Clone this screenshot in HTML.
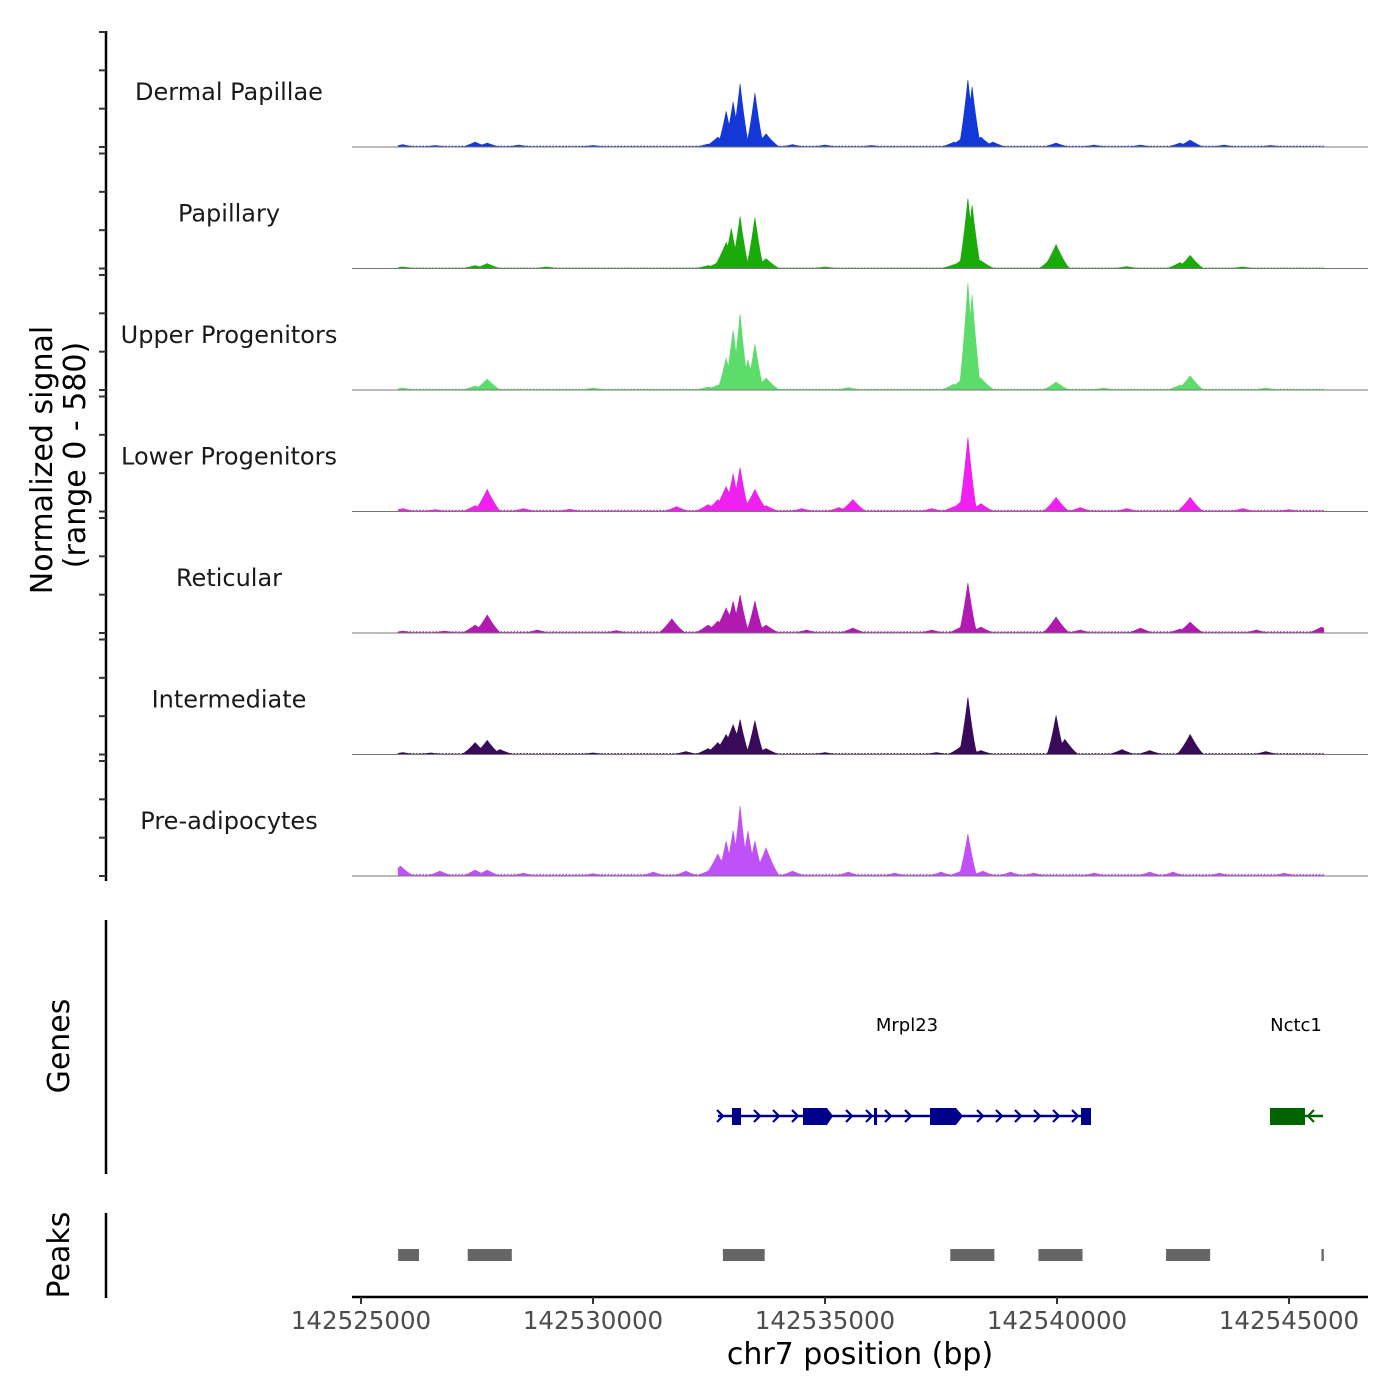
<!DOCTYPE html>
<html><head><meta charset="utf-8">
<style>
html,body{margin:0;padding:0;background:#fff;}
svg{display:block;font-family:"DejaVu Sans","Liberation Sans",sans-serif;}
</style></head>
<body>
<svg id="chart" width="1400" height="1400" viewBox="0 0 1400 1400" xmlns="http://www.w3.org/2000/svg">
<g id="yaxis"></g>
<g id="tracks"></g>
<text x="52" y="460" font-size="30" fill="#000" text-anchor="middle" transform="rotate(-90 52 460)">Normalized signal</text>
<text x="85" y="455" font-size="30" fill="#000" text-anchor="middle" transform="rotate(-90 85 455)">(range 0 - 580)</text>
<line x1="106" y1="920" x2="106" y2="1174" stroke="#000" stroke-width="2.5"/>
<text x="69" y="1046" font-size="30" text-anchor="middle" transform="rotate(-90 69 1046)">Genes</text>
<g id="genes"></g>
<line x1="106" y1="1213" x2="106" y2="1298" stroke="#000" stroke-width="2.5"/>
<text x="69" y="1255" font-size="30" text-anchor="middle" transform="rotate(-90 69 1255)">Peaks</text>
<g id="peaks"></g>
<g id="xaxis"></g>
<text x="860" y="1364" font-size="30" text-anchor="middle" fill="#000">chr7 position (bp)</text>
</svg>
<script>
// ---- data (positions in kb offset from 142525000, values in signal units 0-580) ----
const trackNames = ["Dermal Papillae","Papillary","Upper Progenitors","Lower Progenitors","Reticular","Intermediate","Pre-adipocytes"];
const trackColors = ["#1438d8","#1aaa0a","#5cdc6a","#f020f0","#b01ab0","#3a0a5a","#c050f8"];
const trackBg = [6,4,6,8,8,6,10];
const xTicks = [142525000,142530000,142535000,142540000,142545000];
const dpPos = [0.9,1.6,2.46,2.72,3.4,5.0,7.48,7.69,7.87,8.02,8.17,8.34,8.49,8.73,9.3,10.0,11.0,12.78,12.93,13.08,13.17,13.36,13.62,14.98,15.8,16.8,17.65,17.87,18.6,19.6];
const dpVal = [12,8,25,20,10,8,15,50,180,227,318,40,272,66,12,10,8,25,40,338,302,50,25,20,10,10,20,35,10,8];
const paPos = [0.9,2.46,2.72,4.0,7.48,7.69,7.87,7.98,8.17,8.49,8.73,10.0,12.78,12.93,13.08,13.17,13.36,14.9,14.98,16.5,17.65,17.87,19.0];
const paVal = [8,15,25,8,15,30,131,202,262,257,50,8,20,40,353,320,40,60,121,10,30,66,8];
const upPos = [0.9,2.46,2.72,5.0,7.48,7.69,7.87,8.02,8.17,8.34,8.49,8.73,10.5,12.78,12.93,13.08,13.17,13.36,14.98,16.0,17.65,17.87,19.5];
const upVal = [10,20,55,10,15,25,161,302,383,151,232,60,12,30,50,540,480,60,40,10,25,71,10];
const lpPos = [0.9,1.6,2.46,2.72,3.5,4.5,6.8,7.48,7.69,7.87,8.02,8.17,8.49,8.73,9.5,10.3,10.6,12.3,12.78,12.93,13.08,13.36,14.98,15.5,16.5,17.87,19.0,20.0];
const lpVal = [15,10,30,111,15,12,25,35,60,126,190,222,111,30,15,20,60,15,25,50,373,40,71,20,15,71,15,10];
const rePos = [0.9,1.8,2.46,2.72,3.8,5.5,6.7,7.48,7.69,7.87,8.02,8.17,8.49,8.73,9.6,10.5,10.6,12.3,12.93,13.08,13.36,14.98,15.5,16.8,17.65,17.87,19.3,20.7];
const reVal = [10,10,40,91,15,12,71,40,60,126,160,192,161,40,15,10,25,15,30,252,30,81,15,25,20,55,15,30];
const inPos = [0.9,1.5,2.46,2.72,3.0,5.0,7.0,7.48,7.69,7.87,8.02,8.17,8.49,8.73,10.0,12.4,12.93,13.08,13.36,14.98,15.17,16.4,17.0,17.87,19.5];
const inVal = [10,8,60,71,25,8,15,30,60,101,150,176,171,30,10,10,40,287,20,197,76,25,20,101,15];
const prPos = [0.85,1.7,2.46,2.72,3.5,5.0,6.3,7.0,7.48,7.69,7.87,8.02,8.17,8.34,8.49,8.73,9.3,10.5,11.5,12.5,12.93,13.08,13.4,14.0,14.5,15.8,17.0,17.5,18.5,19.9];
const prVal = [50,25,30,30,15,12,20,25,25,111,176,230,353,227,176,141,25,20,15,20,25,212,25,20,15,15,20,20,15,15];
const trackPos = [dpPos,paPos,upPos,lpPos,rePos,inPos,prPos];
const trackVal = [dpVal,paVal,upVal,lpVal,reVal,inVal,prVal];
const peakStarts = [0.8,2.3,7.8,12.7,14.6,17.35,20.7];
const peakEnds = [1.25,3.25,8.7,13.65,15.55,18.3,20.75];
// ---- axis functions ----
const SVGNS="http://www.w3.org/2000/svg";
const x0=361, pxPerKb=46.4;
function xs(kb){return x0+kb*pxPerKb;}
function xsBp(bp){return xs((bp-142525000)/1000);}
const trackH=115, trackTop0=32, trackStep=121.5, yMax=580;
function ys(i,v){return trackTop0+i*trackStep+trackH - v/yMax*trackH;}
function mk(tag,attrs,parent){const e=document.createElementNS(SVGNS,tag);for(const k in attrs)e.setAttribute(k,attrs[k]);parent.appendChild(e);return e;}

const yax=document.getElementById('yaxis');
let ya=mk('line',{x1:106,y1:31,x2:106,y2:881,stroke:'#000','stroke-width':2.5},yax);


const tr=document.getElementById('tracks');
for(let i=0;i<7;i++){
  for(let t=0;t<4;t++){
    const y=ys(i,yMax*t/3);
    const tk=mk('line',{x1:99,y1:y,x2:106,y2:y,stroke:'#333','stroke-width':2},yax);
    
    
  }
  const pos=trackPos[i], val=trackVal[i];
  let pts=[];
  const a=0.8,b=20.75,step=0.01;
  let idx=0;
  for(let k=a;k<=b+1e-9;k+=step){
    let v=0;
    for(let j=0;j<pos.length;j++){
      const w=val[j]>150?0.2:0.3;
      const d=Math.abs(k-pos[j])/w;
      if(d<1){const s=val[j]*Math.pow(1-d,1.3);if(s>v)v=s;}
    }
    const bg=trackBg[i]*((idx%7)/6);
    if(bg>v)v=bg;
    idx++;
    pts.push(xs(k).toFixed(1)+','+ys(i,v).toFixed(1));
  }
  const base=ys(i,0);
  const poly=mk('polygon',{points:xs(a)+','+base+' '+pts.join(' ')+' '+xs(b)+','+base,fill:trackColors[i],stroke:trackColors[i],'stroke-width':0.6},tr);
  
  
  const bl=mk('line',{x1:352,y1:base,x2:1368,y2:base,stroke:'#777','stroke-width':1},tr);
  
  
  const lab=mk('text',{x:229,y:trackTop0+i*trackStep+68,'font-size':24,'text-anchor':'middle',fill:'#1a1a1a'},tr);
  lab.textContent=trackNames[i];
  
  
}
// genes
const g=document.getElementById('genes');
const navy='#00008b', green='#006400', gy=1116;
mk('line',{x1:718,y1:gy,x2:1091,y2:gy,stroke:navy,'stroke-width':2.5},g);
[[732,741],[803,827],[874,877],[930,956],[1081,1091]].forEach(e=>{
  const r=mk('rect',{x:e[0],y:1108,width:e[1]-e[0],height:17,fill:navy},g);
  
  
});
mk('polygon',{points:'827,1108 833,1116 827,1125',fill:navy},g);
mk('polygon',{points:'956,1108 963,1116 956,1125',fill:navy},g);
[757,776,795,849,869,888,908,980,999,1018,1037,1056,1075,720].forEach(x=>{
  mk('polyline',{points:(x-3)+',1110 '+(x+3)+',1116 '+(x-3)+',1122',fill:'none',stroke:navy,'stroke-width':2.2},g);
});
const gl1=mk('text',{x:907,y:1031,'font-size':18,'text-anchor':'middle',fill:'#000'},g);
gl1.textContent='Mrpl23';


mk('line',{x1:1270,y1:gy,x2:1323,y2:gy,stroke:green,'stroke-width':2.5},g);
const gr=mk('rect',{x:1270,y:1108,width:35,height:17,fill:green},g);


mk('polyline',{points:'1314,1110 1308,1116 1314,1122',fill:'none',stroke:green,'stroke-width':2.2},g);
const gl2=mk('text',{x:1296,y:1031,'font-size':18,'text-anchor':'middle',fill:'#000'},g);
gl2.textContent='Nctc1';


// peaks
const pk=document.getElementById('peaks');
for(let i=0;i<peakStarts.length;i++){
  const x1=xs(peakStarts[i]), x2=xs(peakEnds[i]);
  const r=mk('rect',{x:x1,y:1249,width:Math.max(2,x2-x1),height:12,fill:'#666'},pk);
  
  
}
// x axis
const xa=document.getElementById('xaxis');
const xl=mk('line',{x1:352,y1:1297,x2:1368,y2:1297,stroke:'#000','stroke-width':2.5},xa);


xTicks.forEach(t=>{
  const x=xsBp(t);
  const tk=mk('line',{x1:x,y1:1297,x2:x,y2:1304,stroke:'#333','stroke-width':2},xa);
  
  
  const lb=mk('text',{x:x,y:1329,'font-size':24.5,'text-anchor':'middle',fill:'#4d4d4d'},xa);
  lb.textContent=String(t);
  
  
});
</script>
</body></html>
